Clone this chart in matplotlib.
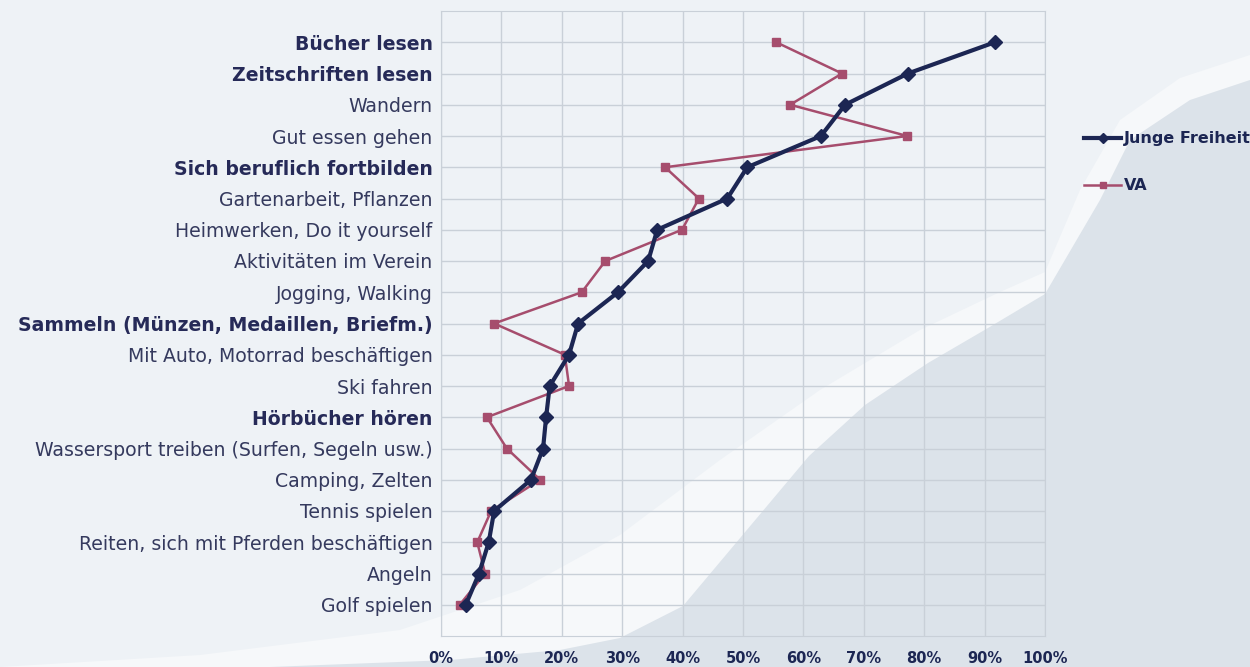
import numpy as np
import matplotlib
matplotlib.use('Agg')
import matplotlib.pyplot as plt
from matplotlib.lines import Line2D

categories = ['Bücher lesen', 'Zeitschriften lesen', 'Wandern', 'Gut essen gehen',
              'Sich beruflich fortbilden', 'Gartenarbeit, Pflanzen',
              'Heimwerken, Do it yourself', 'Aktivitäten im Verein',
              'Jogging, Walking', 'Sammeln (Münzen, Medaillen, Briefm.)',
              'Mit Auto, Motorrad beschäftigen', 'Ski fahren', 'Hörbücher hören',
              'Wassersport treiben (Surfen, Segeln usw.)', 'Camping, Zelten',
              'Tennis spielen', 'Reiten, sich mit Pferden beschäftigen',
              'Angeln', 'Golf spielen']
bold_labels = ['Bücher lesen', 'Zeitschriften lesen', 'Sich beruflich fortbilden',
               'Sammeln (Münzen, Medaillen, Briefm.)', 'Hörbücher hören']

junge_freiheit = [91.7, 77.3, 66.9, 62.9, 50.7, 47.4, 35.8, 34.3, 29.3, 22.7,
                  21.2, 18.0, 17.4, 16.9, 14.9, 8.8, 7.9, 6.3, 4.1]
va = [55.5, 66.4, 57.8, 77.2, 37.1, 42.7, 39.9, 27.2, 23.3, 8.8,
      20.5, 21.2, 7.6, 10.9, 16.4, 8.3, 6.0, 7.3, 3.1]

navy = '#1c2653'
rose = '#a64d6d'
label_col = '#353a5e'

W, H = 1250, 667
fig = plt.figure(figsize=(12.5, 6.67), dpi=100)
fig.patch.set_facecolor('#eef2f6')

# background swoosh shapes (pixel coordinates, y from top)
bg = fig.add_axes([0, 0, 1, 1], zorder=0)
bg.set_xlim(0, W)
bg.set_ylim(H, 0)
bg.axis('off')
upper_x = [0, 200, 400, 520, 620, 720, 820, 920, 1000, 1045, 1080, 1120, 1180, 1250]
upper_y = [667, 655, 630, 590, 535, 460, 390, 330, 292, 272, 190, 120, 78, 55]
dark_x = [270, 450, 560, 620, 683, 746, 809, 865, 928, 988, 1045, 1100, 1130, 1190, 1250]
dark_y = [667, 660, 650, 638, 606, 531, 456, 405, 363, 328, 294, 200, 140, 100, 80]
bg.fill(upper_x + [W, 0], upper_y + [H, H], color='#f6f8fa', lw=0)
bg.fill(dark_x + [W, dark_x[0]], dark_y + [H, H], color='#dce3ea', lw=0)

ax = fig.add_axes([441 / W, 1 - 636 / H, (1045 - 441) / W, (636 - 11) / H], zorder=1)
ax.set_facecolor('none')
y = np.arange(len(categories))

ax.plot(va, y, color=rose, lw=1.8, marker='s', ms=5.5, label='VA', zorder=3)
ax.plot(junge_freiheit, y, color=navy, lw=3, marker='D', ms=7.5, label='Junge Freiheit', zorder=4)

ax.set_xlim(0, 100)
ax.set_ylim(len(categories), -1)
ax.set_xticks(np.arange(0, 101, 10))
ax.set_xticklabels([f'{v}%' for v in range(0, 101, 10)], fontsize=10.5, fontweight='bold', color=navy)
ax.set_yticks(y)
ax.set_yticklabels(categories, fontsize=13.6)
for t in ax.get_yticklabels():
    t.set_color(label_col)
    if t.get_text() in bold_labels:
        t.set_fontweight('bold')
        t.set_color('#262a58')
ax.tick_params(length=0, pad=6)
ax.tick_params(axis='x', pad=11)
ax.grid(True, color='#c9d0d8', lw=1)
ax.set_axisbelow(True)
for s in ax.spines.values():
    s.set_color('#c9d0d8')

handles = [Line2D([], [], color=navy, lw=3, marker='D', ms=5),
           Line2D([], [], color=rose, lw=1.8, marker='s', ms=5)]
fig.legend(handles, ['Junge Freiheit', 'VA'], loc='upper left',
           bbox_to_anchor=(1070 / W, 1 - 117 / H), frameon=False,
           prop={'weight': 'bold', 'size': 11.5}, labelcolor=navy,
           handlelength=2.3, handletextpad=0.15, labelspacing=2.0)

fig.savefig('out.png', dpi=100, facecolor=fig.get_facecolor())
